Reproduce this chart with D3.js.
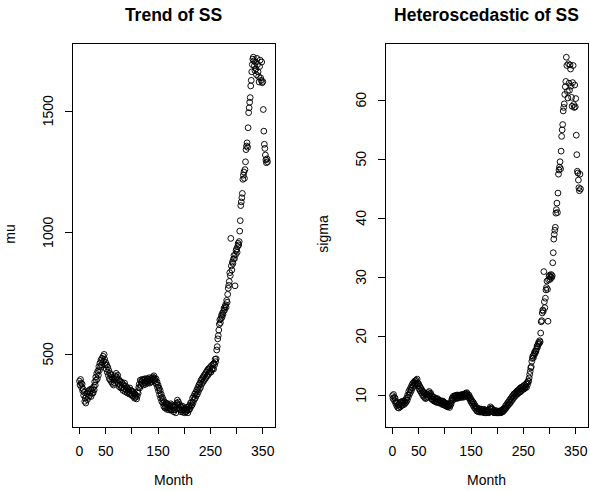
<!DOCTYPE html>
<html><head><meta charset="utf-8">
<script src="https://cdn.jsdelivr.net/npm/d3@7"></script>
<style>
body{margin:0;background:#fff}
text{font-family:"Liberation Sans",Arial,Helvetica,sans-serif;fill:#000}
</style>
</head><body>
<svg id="chart" width="590" height="491"></svg>
<script>
// ---- data ----
const months = d3.range(1, 361);

const mu = [
388,372,395,380,362,376,348,355,330,342,
305,318,298,325,338,312,345,322,350,328,
340,355,325,350,338,358,340,365,352,385,
372,405,392,420,398,430,412,448,432,462,
445,475,455,482,465,490,470,498,478,455,
465,438,455,425,445,412,432,398,420,392,
415,385,405,378,398,372,392,380,410,398,
420,405,392,412,378,395,365,388,372,360,
385,362,378,350,372,358,380,345,368,352,
362,340,358,345,352,335,360,338,350,332,
348,328,345,325,338,318,335,322,330,315,
325,345,338,362,375,360,392,370,385,395,
378,392,372,395,382,398,375,390,385,398,
380,395,388,402,380,392,398,385,400,392,
405,395,410,400,392,382,398,375,385,362,
372,348,360,332,350,318,335,305,322,298,
312,285,302,278,295,282,298,272,290,278,
292,270,285,275,295,268,282,290,270,285,
262,282,270,290,258,275,298,310,292,302,
278,292,270,285,262,280,268,285,260,275,
268,258,275,262,280,265,272,258,282,270,
288,275,298,285,302,290,318,300,325,312,
335,318,342,328,352,335,362,345,372,355,
380,362,392,375,398,382,405,388,412,395,
418,400,425,408,432,412,438,420,442,428,
445,425,452,435,440,458,438,462,455,478,
468,480,516,530,562,575,598,622,640,628,
645,658,650,668,662,675,688,680,695,702,
692,720,712,745,770,782,798,834,822,975,
862,845,878,872,890,905,892,780,908,925,
932,918,942,955,948,962,1005,1048,1110,1125,
1142,1160,1218,1235,1248,1222,1258,1290,1340,1355,
1368,1350,1430,1492,1512,1535,1554,1602,1625,1660,
1690,1712,1720,1705,1685,1665,1700,1672,1648,1715,
1690,1660,1640,1618,1682,1708,1635,1625,1700,1615,
1620,1505,1416,1362,1345,1318,1298,1286,1302,1290
];

const sigma = [
9.9,9.4,10.1,9.6,9.0,9.5,8.6,8.9,8.2,8.6,
7.9,8.3,7.8,8.4,8.7,8.0,8.8,8.2,8.9,8.3,
8.7,9.0,8.4,8.9,8.6,9.2,8.8,9.5,9.1,10.0,
9.6,10.6,10.1,10.9,10.4,11.3,10.8,11.7,11.2,12.0,
11.5,12.2,11.8,12.4,11.9,12.5,12.0,12.7,12.1,11.6,
11.9,11.0,11.5,10.7,11.2,10.4,10.9,10.1,10.6,9.8,
10.4,9.6,10.2,9.4,10.0,9.5,10.1,9.7,10.4,10.0,
10.6,10.2,9.8,10.3,9.4,9.9,9.2,9.7,9.3,9.0,
9.6,9.0,9.4,8.8,9.3,8.9,9.4,8.7,9.2,8.8,
9.1,8.6,9.0,8.7,8.9,8.4,9.0,8.5,8.8,8.3,
8.7,8.2,8.6,8.1,8.5,8.0,8.4,8.1,8.3,7.9,
8.2,8.7,8.5,9.2,9.5,9.1,9.8,9.3,9.7,9.9,
9.5,9.9,9.4,10.0,9.6,10.0,9.5,9.9,9.7,10.0,
9.6,10.0,9.8,10.1,9.6,9.9,10.1,9.7,10.2,9.9,
10.3,10.0,10.4,10.1,9.9,9.6,10.0,9.4,9.6,9.0,
9.3,8.7,9.0,8.4,8.8,8.1,8.5,7.8,8.2,7.6,
7.9,7.3,7.8,7.2,7.6,7.3,7.7,7.1,7.5,7.2,
7.6,7.1,7.4,7.2,7.6,7.0,7.3,7.5,7.0,7.4,
7.0,7.3,7.1,7.5,7.0,7.2,7.7,8.0,7.6,7.8,
7.2,7.6,7.1,7.4,7.0,7.3,7.0,7.4,7.0,7.2,
7.0,7.0,7.2,7.0,7.3,7.0,7.2,7.0,7.4,7.1,
7.5,7.2,7.7,7.4,7.8,7.6,8.2,7.8,8.4,8.1,
8.7,8.3,8.9,8.5,9.2,8.7,9.4,9.0,9.7,9.2,
9.9,9.5,10.2,9.7,10.3,9.9,10.5,10.1,10.7,10.2,
10.8,10.4,11.0,10.5,11.2,10.6,11.3,10.8,11.4,11.0,
11.5,11.0,11.7,11.2,11.4,11.9,11.3,12.1,11.8,12.4,
12.3,12.9,13.5,14.0,14.6,14.8,15.7,16.2,16.6,16.3,
16.8,17.2,17.0,17.5,17.4,17.8,18.3,18.1,18.6,18.9,
18.7,19.2,19.0,20.5,22.4,22.6,23.9,24.4,24.2,30.9,
25.8,24.8,26.4,27.8,28.2,29.3,27.9,22.5,29.5,30.1,
30.3,29.6,30.0,30.4,29.9,30.2,32.4,34.1,36.4,37.2,
37.9,38.4,40.8,41.4,42.5,40.9,44.2,47.4,48.1,48.6,
49.5,48.3,51.3,53.8,54.9,55.8,58.1,58.7,59.3,60.9,
62.2,63.1,67.2,65.8,61.4,60.3,66.1,62.8,61.6,65.9,
65.2,62.3,60.4,58.9,62.9,65.8,59.2,58.7,62.5,58.8,
60.2,54.0,50.7,47.9,47.6,46.4,45.1,44.6,47.4,44.9
];

const xTickValues = [0, 50, 100, 150, 200, 250, 300, 350];
const xTickLabels = ["0", "50", "", "150", "", "250", "", "350"];
const muTicks = [500, 1000, 1500];
const sigmaTicks = [10, 20, 30, 40, 50, 60];
const titles = ["Trend of SS", "Heteroscedastic of SS"];
const yLabels = ["mu", "sigma"];
const xLabel = "Month";

// ---- drawing ----
const svg = d3.select("#chart");
const W = 203, H = 384, TOP = 43;

function padded(ext) {
  const d = (ext[1] - ext[0]) * 0.04;
  return [ext[0] - d, ext[1] + d];
}

function panel(left, values, yTicks, title, ylab) {
  const g = svg.append("g").attr("transform", `translate(${left},${TOP})`);
  const x = d3.scaleLinear().domain(padded(d3.extent(months))).range([0, W]);
  const y = d3.scaleLinear().domain(padded(d3.extent(values))).range([H, 0]);

  g.append("g").selectAll("circle").data(values).join("circle")
    .attr("cx", (d, i) => x(months[i]))
    .attr("cy", d => y(d))
    .attr("r", 2.9)
    .attr("fill", "none")
    .attr("stroke", "#000")
    .attr("stroke-width", 0.95);

  g.append("rect").attr("x", 0).attr("y", 0).attr("width", W).attr("height", H)
    .attr("fill", "none").attr("stroke", "#000").attr("stroke-width", 1)
    .attr("shape-rendering", "crispEdges");

  const xa = g.append("g").attr("transform", `translate(0,${H})`)
    .call(d3.axisBottom(x).tickValues(xTickValues)
      .tickFormat((d, i) => xTickLabels[i]).tickSize(7).tickPadding(12).tickSizeOuter(0));
  xa.select(".domain").remove();
  xa.selectAll("line").attr("stroke", "#000").attr("shape-rendering", "crispEdges");
  xa.selectAll("text").attr("font-size", 14).attr("font-family", null).attr("fill", "#000");

  const ya = g.append("g")
    .call(d3.axisLeft(y).tickValues(yTicks).tickFormat("").tickSize(7).tickSizeOuter(0));
  ya.select(".domain").remove();
  ya.selectAll("line").attr("stroke", "#000").attr("shape-rendering", "crispEdges");

  g.append("g").selectAll("text").data(yTicks).join("text")
    .attr("transform", d => `translate(-19.5,${y(d)}) rotate(-90)`)
    .attr("text-anchor", "middle")
    .attr("font-size", 14)
    .text(d => d);

  g.append("text").attr("x", W / 2).attr("y", -22.5)
    .attr("text-anchor", "middle").attr("font-size", 17.5).attr("font-weight", "bold")
    .text(title);

  g.append("text").attr("x", W / 2).attr("y", H + 58)
    .attr("text-anchor", "middle").attr("font-size", 14).text(xLabel);

  g.append("text")
    .attr("transform", `translate(-57,${H / 2 - 1}) rotate(-90)`)
    .attr("text-anchor", "middle").attr("font-size", 14).text(ylab);
}

panel(72, mu, muTicks, titles[0], yLabels[0]);
panel(385, sigma, sigmaTicks, titles[1], yLabels[1]);
</script>
</body></html>
